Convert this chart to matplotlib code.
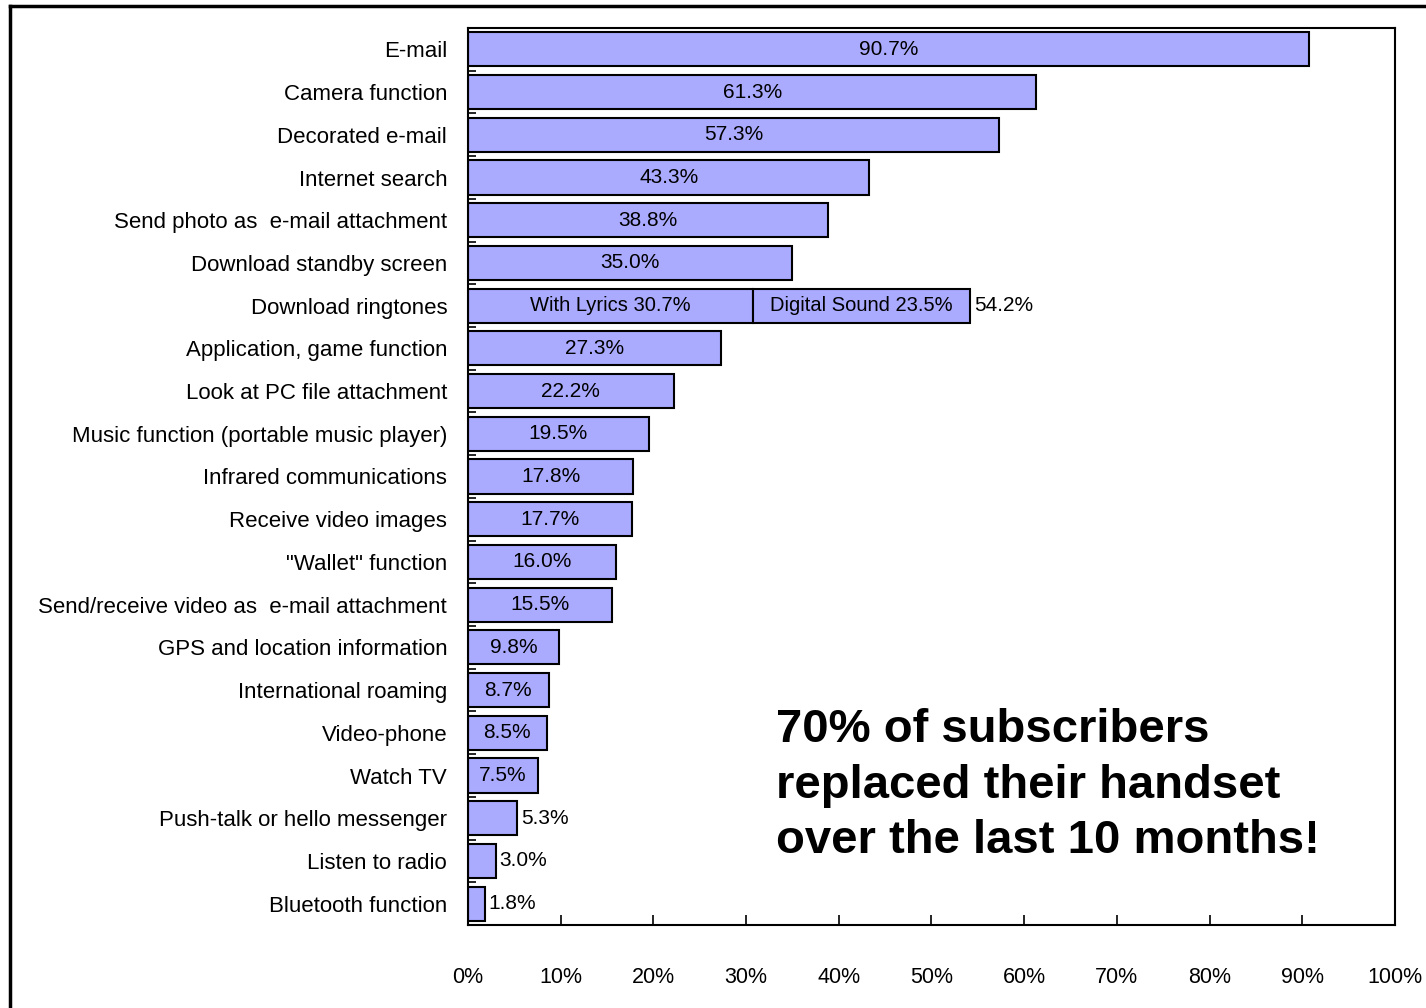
import numpy as np
import matplotlib
matplotlib.use('Agg')
import matplotlib.pyplot as plt
from matplotlib.lines import Line2D

# ---------- data ----------
categories = [
    'E-mail', 'Camera function', 'Decorated e-mail', 'Internet search',
    'Send photo as  e-mail attachment', 'Download standby screen',
    'Download ringtones', 'Application, game function',
    'Look at PC file attachment', 'Music function (portable music player)',
    'Infrared communications', 'Receive video images', '"Wallet" function',
    'Send/receive video as  e-mail attachment', 'GPS and location information',
    'International roaming', 'Video-phone', 'Watch TV',
    'Push-talk or hello messenger', 'Listen to radio', 'Bluetooth function',
]
values = [90.7, 61.3, 57.3, 43.3, 38.8, 35.0, 30.7, 27.3, 22.2, 19.5,
          17.8, 17.7, 16.0, 15.5, 9.8, 8.7, 8.5, 7.5, 5.3, 3.0, 1.8]
# ringtones split: with lyrics + digital sound
ring_extra = 23.5
ring_total = 54.2
ring_labels = ['With Lyrics 30.7%', 'Digital Sound 23.5%']
outside_min = 7.0   # smaller bars get their label outside

xticks = list(range(0, 101, 10))
note = '70% of subscribers\nreplaced their handset\nover the last 10 months!'

BAR = '#aaaaff'
FONT = 'Liberation Sans'
plt.rcParams['font.family'] = FONT

fig = plt.figure(figsize=(14.26, 10.08), dpi=100)
ax = fig.add_axes([468/1426, 1 - 925/1008, (1395-468)/1426, (925-28)/1008])

y = np.arange(len(categories))
ax.barh(y, values, height=0.8, color=BAR, edgecolor='black', lw=1.5)
ri = categories.index('Download ringtones')
ax.barh(ri, ring_extra, left=values[ri], height=0.8, color=BAR,
        edgecolor='black', lw=1.5)

LBL = 15
for i, v in enumerate(values):
    if i == ri:
        ax.text(v/2, i, ring_labels[0], ha='center', va='center', fontsize=14.5)
        ax.text(v + ring_extra/2, i, ring_labels[1], ha='center', va='center',
                fontsize=14.5)
        ax.text(ring_total + 0.4, i, f'{ring_total:.1f}%', ha='left',
                va='center', fontsize=LBL)
    elif v >= outside_min:
        ax.text(v/2, i, f'{v:.1f}%', ha='center', va='center', fontsize=LBL)
    else:
        ax.text(v + 0.4, i, f'{v:.1f}%', ha='left', va='center', fontsize=LBL)

ax.set_xlim(0, 100)
ax.set_ylim(len(categories) - 0.5, -0.5)
ax.set_yticks(y)
ax.set_yticklabels(categories, fontsize=16)
ax.set_yticks(np.arange(len(categories) - 1) + 0.5, minor=True)
ax.tick_params(axis='y', which='major', length=0, pad=15)
ax.tick_params(axis='y', which='minor', direction='in', length=6, width=1.2)
ax.set_xticks(xticks)
ax.set_xticklabels([f'{t}%' for t in xticks], fontsize=15.5)
ax.tick_params(axis='x', direction='in', length=7, width=1.2, pad=30)
for s in ax.spines.values():
    s.set_linewidth(1.5)

fig.text(776/1426, 1 - 708/1008, note, fontsize=34, fontweight='bold',
         family='Liberation Sans', ha='left', va='top', linespacing=1.34)

# outer frame (left and top edges)
fig.add_artist(Line2D([10/1426, 10/1426], [0, 1 - 6/1008],
                      transform=fig.transFigure, color='black', lw=2.5))
fig.add_artist(Line2D([10/1426, 1], [1 - 6/1008, 1 - 6/1008],
                      transform=fig.transFigure, color='black', lw=2.5))

fig.savefig('out.png', dpi=100)
